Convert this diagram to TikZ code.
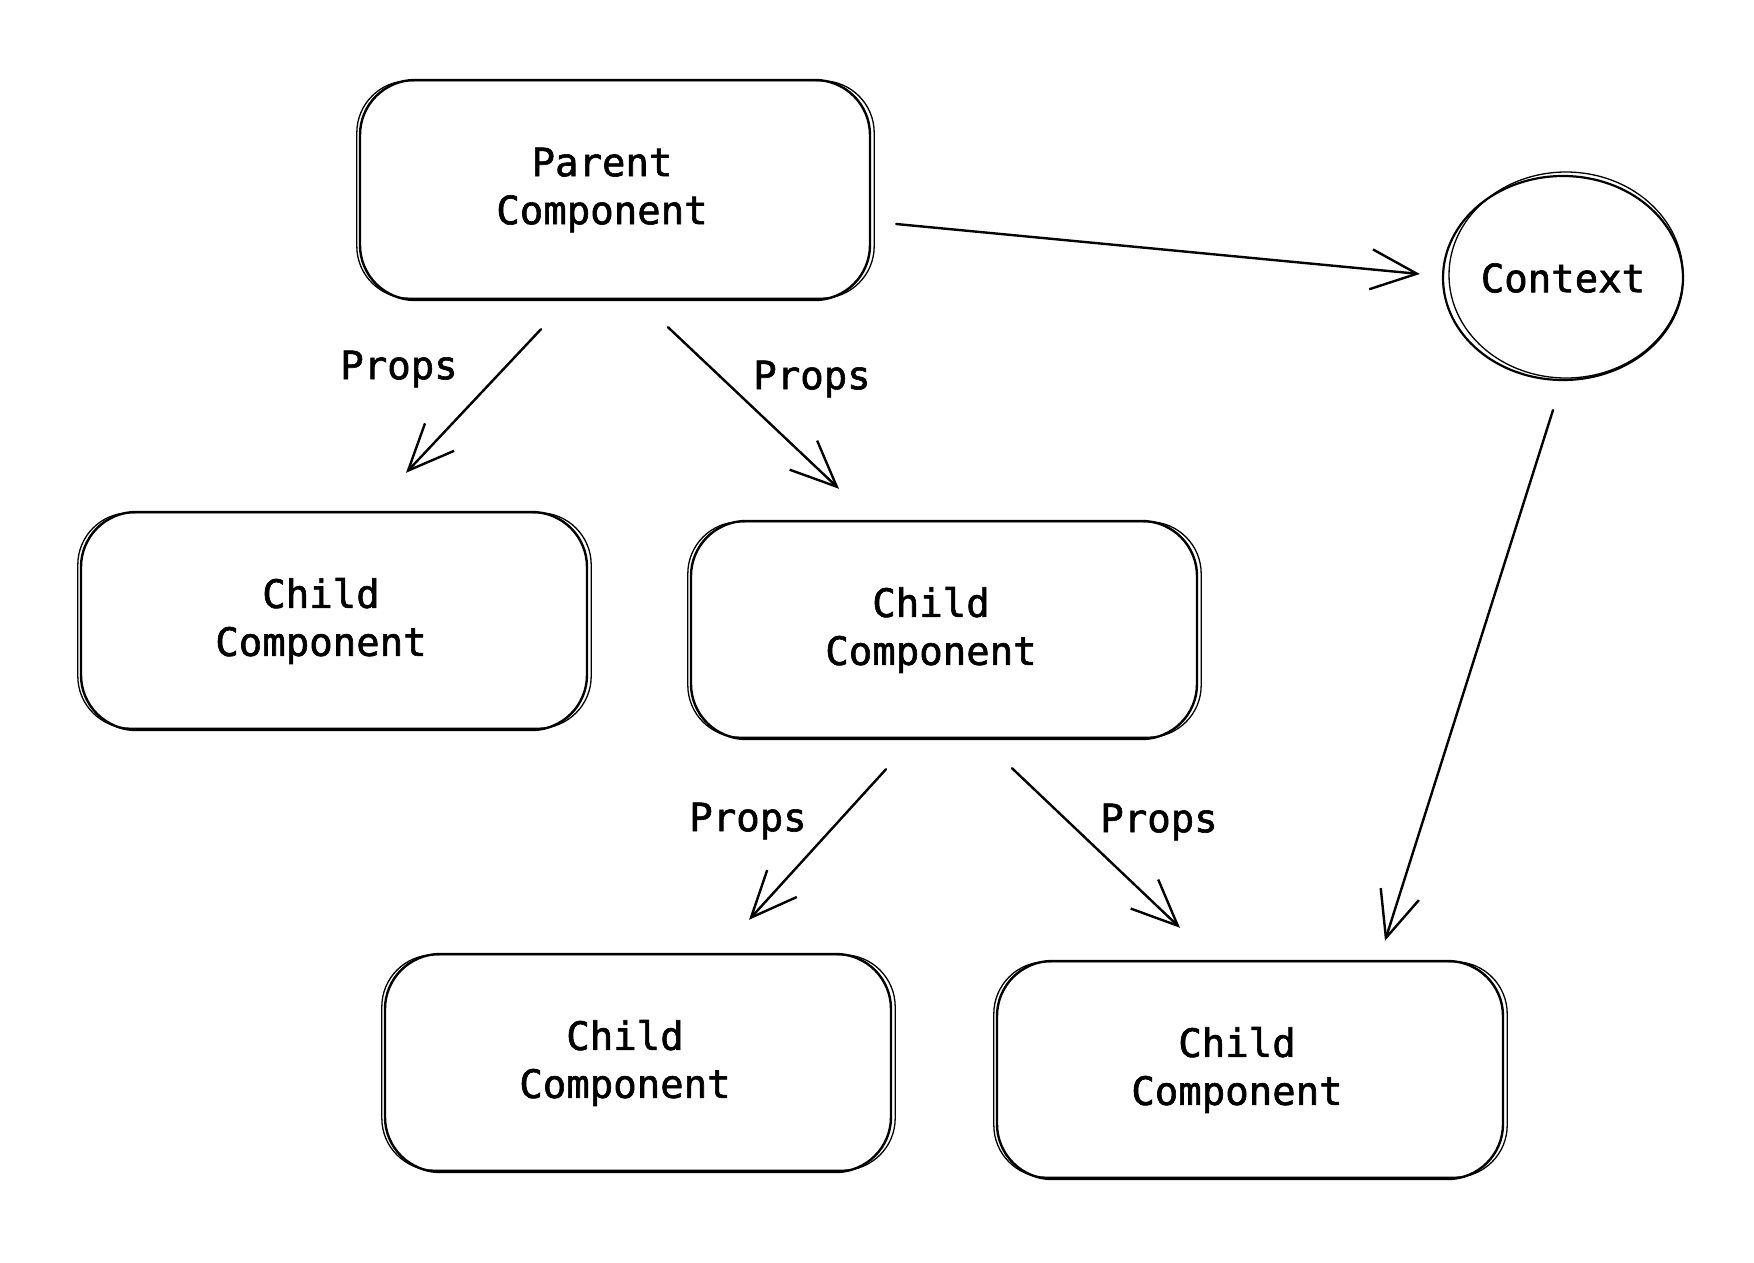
\documentclass[tikz,border=0pt]{standalone}
\usepackage{fontspec}
\newfontfamily\skfont[FakeBold=1.6]{DejaVu Sans Mono}
\usetikzlibrary{arrows.meta,shapes.geometric,calc}
\newcommand{\lpad}[1]{#1\hspace*{26pt}}
\begin{document}
\begin{tikzpicture}[x=1pt,y=-1pt,
  txt/.style={font=\fontsize{39}{48}\selectfont\skfont, align=center},
  comp/.style={txt, draw=black, line width=2.4pt, rounded corners=55pt,
     minimum width=506pt, minimum height=218pt, inner sep=0pt},
  ctxshape/.style={txt, ellipse, draw=black, line width=2.2pt,
     minimum width=240pt, minimum height=204pt, inner sep=0pt},
  sketch/.style={draw=black, line width=1.3pt},
  arr/.style={draw=black, line width=2.4pt, line cap=round,
     -{Straight Barb[length=46pt, width=40pt, line width=2.4pt]}},
  lbl/.style={txt}
]
\useasboundingbox[fill=white] (0,0) rectangle (1754,1262);

% nodes
\node[comp, minimum width=510pt, minimum height=220pt] (p) at (615,190) {\lpad{Parent}\\\lpad{Component}};
\node[comp] (c1) at (334,621) {\lpad{Child}\\\lpad{Component}};
\node[comp] (c2) at (944,630) {\lpad{Child}\\\lpad{Component}};
\node[comp] (c3) at (638,1063) {\lpad{Child}\\\lpad{Component}};
\node[comp] (c4) at (1250,1070) {\lpad{Child}\\\lpad{Component}};
\node[ctxshape] (ctx) at (1563,278) {Context};

% sketchy second strokes
\foreach \n in {p,c1,c2,c3,c4}{
  \draw[sketch, rounded corners=52pt] ($(\n.south west)+(-2,-3)$) rectangle ($(\n.north east)+(3,2)$);
}
\draw[sketch] ($(ctx.center)+(3,-3)$) ellipse [x radius=117, y radius=103];

% connectors
\draw[arr] ($(p.east)+(25,34)$) -- ($(ctx.west)+(-22,-4)$);
\draw[arr] ($(p.south)+(-74,28)$) -- ($(c1.north)+(72,-38)$);
\draw[arr] ($(p.south)+(53,26)$) -- ($(c2.north)+(-105,-31)$);
\draw[arr] ($(c2.south)+(-58,29)$) -- ($(c3.north)+(111,-33)$);
\draw[arr] ($(c2.south)+(68,28)$) -- ($(c4.north)+(-70,-32)$);
\draw[arr] ($(ctx.south)+(-10,29)$) -- ($(c4.north)+(135,-19)$);

% labels
\node[lbl] (l1) at (399,369) {Props};
\node[lbl] (l2) at (812,379) {Props};
\node[lbl] (l3) at (748,821) {Props};
\node[lbl] (l4) at (1159,822) {Props};
\end{tikzpicture}
\end{document}
